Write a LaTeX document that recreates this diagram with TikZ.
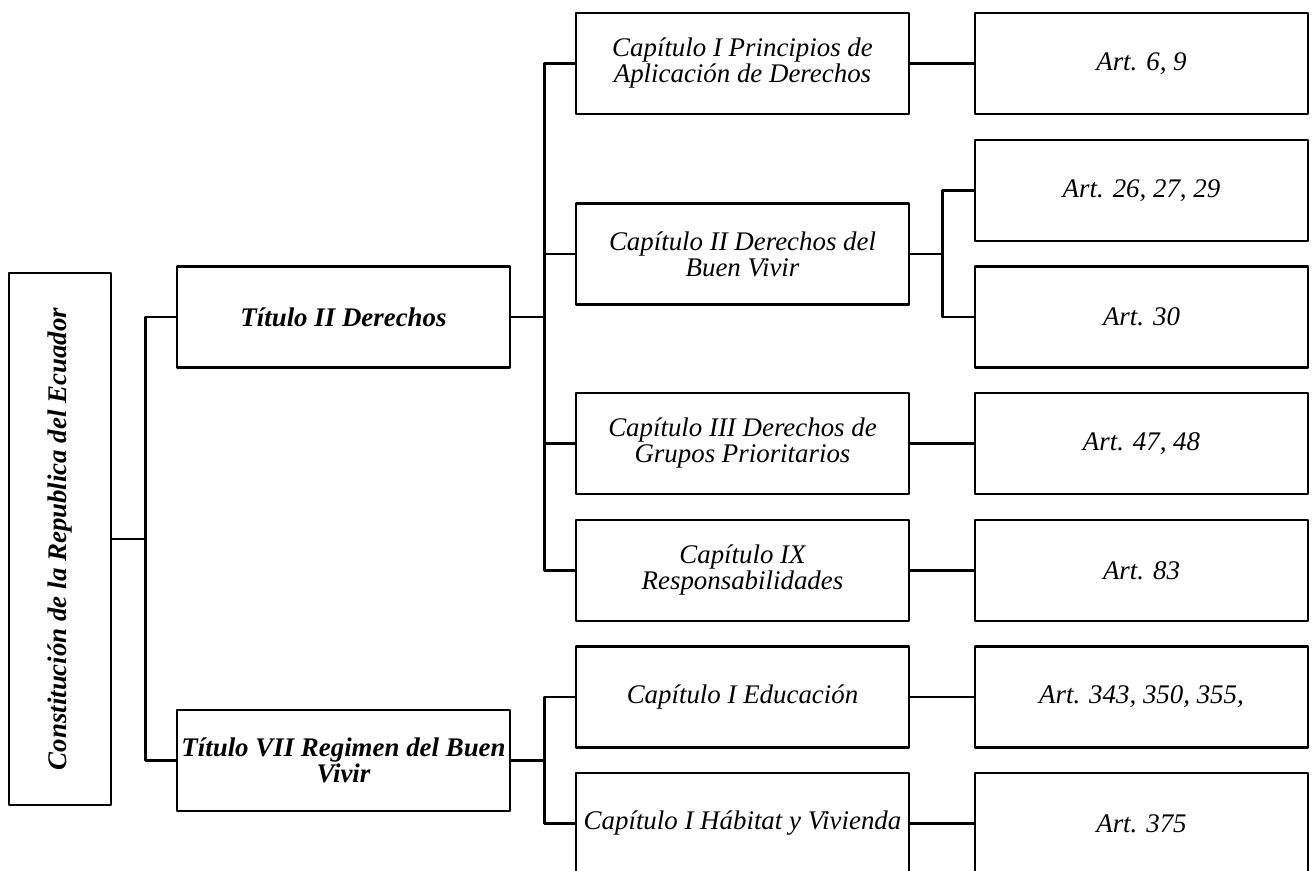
\documentclass[tikz,border=0pt]{standalone}
\usepackage{fontspec}
\setmainfont{Liberation Serif}
\usepackage{graphicx}
\usetikzlibrary{positioning}

\begin{document}
\begin{tikzpicture}[line cap=round,line join=round,x=0.02cm,y=-0.02cm,
  caja/.style={draw,line width=1.5pt,minimum width=6.66cm,minimum height=2.02cm,inner sep=0pt,align=center,font=\fontsize{15.3}{14.8}\selectfont\itshape},
  titulo/.style={caja,font=\fontsize{15.3}{14.8}\selectfont\bfseries\itshape},
  rama/.style={line width=1.5pt}]
\useasboundingbox (0,0) rectangle (1314,870);
\node[draw,line width=1.5pt,minimum width=2.04cm,minimum height=10.64cm,inner sep=0pt,font=\fontsize{15.3}{14.8}\selectfont\bfseries\itshape] (cre) at (60,539) {\rotatebox{90}{Constitución de la Republica del Ecuador}};
\node[titulo] (t2) at (343.5,317) {Título II Derechos};
\node[titulo] (t7) at (343.5,760.5) {Título VII Regimen del Buen\\Vivir};
\node[caja] (c1) at (742.5,63.5) {Capítulo I Principios de\\Aplicación de Derechos};
\node[caja] (c2) at (742.5,254) {Capítulo II Derechos del\\Buen Vivir};
\node[caja] (c3) at (742.5,443.5) {Capítulo III Derechos de\\Grupos Prioritarios};
\node[caja] (c9) at (742.5,570.5) {Capítulo IX\\Responsabilidades};
\node[caja] (ced) at (742.5,697) {Capítulo I Educación};
\node[caja] (cha) at (742.5,823.5) {Capítulo I Hábitat y Vivienda};
\node[caja] (a6) at (1141.5,63.5) {Art. 6, 9};
\node[caja] (a26) at (1141.5,190.5) {Art. 26, 27, 29};
\node[caja] (a30) at (1141.5,317) {Art. 30};
\node[caja] (a47) at (1141.5,443.5) {Art. 47, 48};
\node[caja] (a83) at (1141.5,570.5) {Art. 83};
\node[caja] (a343) at (1141.5,697) {Art. 343, 350, 355,};
\node[caja] (a375) at (1141.5,823.5) {Art. 375};
\draw[rama] (cre.east) -- ++(33,0) |- (t2.west);
\draw[rama] (cre.east) -- ++(33,0) |- (t7.west);
\foreach \c in {c1,c2,c3,c9}
\draw[rama] (t2.east) -- ++(33,0) |- (\c.west);
\foreach \c in {ced,cha}
\draw[rama] (t7.east) -- ++(33,0) |- (\c.west);
\draw[rama] (c2.east) -- ++(32,0) |- (a26.west);
\draw[rama] (c2.east) -- ++(32,0) |- (a30.west);
\draw[rama] (c1.east) -- (a6.west);
\draw[rama] (c3.east) -- (a47.west);
\draw[rama] (c9.east) -- (a83.west);
\draw[rama] (ced.east) -- (a343.west);
\draw[rama] (cha.east) -- (a375.west);
\end{tikzpicture}
\end{document}
